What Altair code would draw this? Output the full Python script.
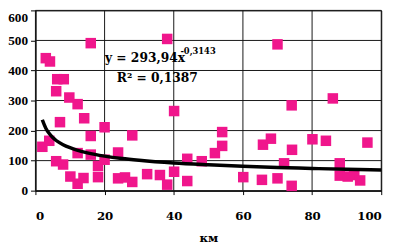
import altair as alt
import pandas as pd

# distance, km
km = [2, 3, 4.2, 4, 6.3, 8.2, 6, 7.1, 6, 8, 9.8, 12.2, 10.1, 12.2, 12.2, 13.9,
      14.1, 16, 16, 16, 18.1, 18.1, 20, 20, 23.9, 23.9, 25.9, 28, 28, 32.3,
      36, 38.1, 38.1, 40.1, 40.1, 43.9, 43.9, 48.1, 51.9, 54, 54, 60.1, 65.5,
      65.8, 68.1, 70, 70, 71.9, 74.1, 74.2, 74.1, 80.1, 84, 86, 88, 88, 90.3,
      92.2, 93.9, 96]
# measured values
vals = [146, 441, 430, 166, 371, 371, 331, 228, 98, 87, 310, 288, 47, 125, 23, 42,
        241, 491, 182, 120, 82, 45, 211, 103, 127, 41, 44, 184, 29, 55,
        52, 20, 505, 265, 63, 106, 32, 98, 125, 149, 195, 45, 36,
        153, 173, 41, 487, 91, 284, 136, 16, 171, 166, 307, 91, 50, 47,
        52, 34, 160]

# power trend line
trend_km = [2, 3, 4, 5, 6, 8, 10, 12, 15, 20, 25, 30, 40, 50, 60, 70, 80, 90, 100]
trend_vals = [236, 208, 190, 177, 167, 153, 143, 135, 126, 115, 107, 101, 92, 86, 81, 77, 74, 71, 69]

x_ticks = [0, 20, 40, 60, 80, 100]
y_ticks = [0, 100, 200, 300, 400, 500, 600]
x_title = "км"
eq_main = "y = 293,94x"
eq_exp = "-0,3143"
r2_text = "R² = 0,1387"

FONT = "DejaVu Serif"
YFONT = "Liberation Serif"
PINK = "#F0168C"
GRID = "#161616"

pts = pd.DataFrame({"km": km, "v": vals})
tr = pd.DataFrame({"km": trend_km, "v": trend_vals})

xs = alt.Scale(domain=[0, 100], nice=False, zero=False)
ys = alt.Scale(domain=[0, 600], nice=False)

x_axis = alt.Axis(
    title=x_title, values=x_ticks, tickCount=6, format="d", labelOverlap=False,
    labelFont=FONT, labelFontWeight="bold", labelFontSize=12, labelColor="black",
    labelPadding=16, tickSize=4, tickColor="black", tickWidth=1,
    domainColor="black", domainWidth=1, grid=False,
    titleFont=FONT, titleFontWeight="bold", titleFontSize=12, titleColor="black",
    titlePadding=12)
y_axis = alt.Axis(
    title=None, values=y_ticks, tickCount=7, format="d", labelOverlap=False,
    labelFont=YFONT, labelFontWeight="bold", labelFontSize=13.5, labelColor="black",
    labelBaseline={"expr": "datum.value == 600 ? 'top' : 'middle'"},
    labelPadding=3, tickSize=5, tickColor="black", tickWidth=1,
    domainColor="black", domainWidth=1, grid=False)

x_enc = alt.X("km:Q", scale=xs, axis=x_axis)
y_enc = alt.Y("v:Q", scale=ys, axis=y_axis)

hgrid = alt.Chart(pd.DataFrame({"v": y_ticks})).mark_rule(color=GRID, strokeWidth=1).encode(y=y_enc)
vgrid = alt.Chart(pd.DataFrame({"km": x_ticks})).mark_rule(color=GRID, strokeWidth=1).encode(x=x_enc)

points = alt.Chart(pts).mark_square(size=115, color=PINK, opacity=1).encode(x=x_enc, y=y_enc)

line = alt.Chart(tr).mark_line(color="black", strokeWidth=3.5, interpolate="monotone").encode(
    x=x_enc, y=y_enc)

t1 = alt.Chart(pd.DataFrame({"t": [eq_main]})).mark_text(
    align="left", baseline="middle", font=FONT, fontWeight="bold", fontSize=12.5, color="black"
).encode(x=alt.value(71), y=alt.value(49), text="t:N")
t2 = alt.Chart(pd.DataFrame({"t": [eq_exp]})).mark_text(
    align="left", baseline="middle", font=FONT, fontWeight="bold", fontSize=8.5, color="black"
).encode(x=alt.value(148), y=alt.value(42), text="t:N")
t3 = alt.Chart(pd.DataFrame({"t": [r2_text]})).mark_text(
    align="left", baseline="middle", font=FONT, fontWeight="bold", fontSize=12.5, color="black"
).encode(x=alt.value(83), y=alt.value(69), text="t:N")

chart = alt.layer(hgrid, vgrid, points, line, t1, t2, t3).properties(
    width=353, height=184,
    autosize=alt.AutoSizeParams(type="none"),
    padding={"left": 28, "top": 0, "right": 12, "bottom": 52},
    background="white",
).configure_view(stroke="black", strokeWidth=1)

chart.save("out.html", embed_options={"renderer": "svg", "actions": False})
